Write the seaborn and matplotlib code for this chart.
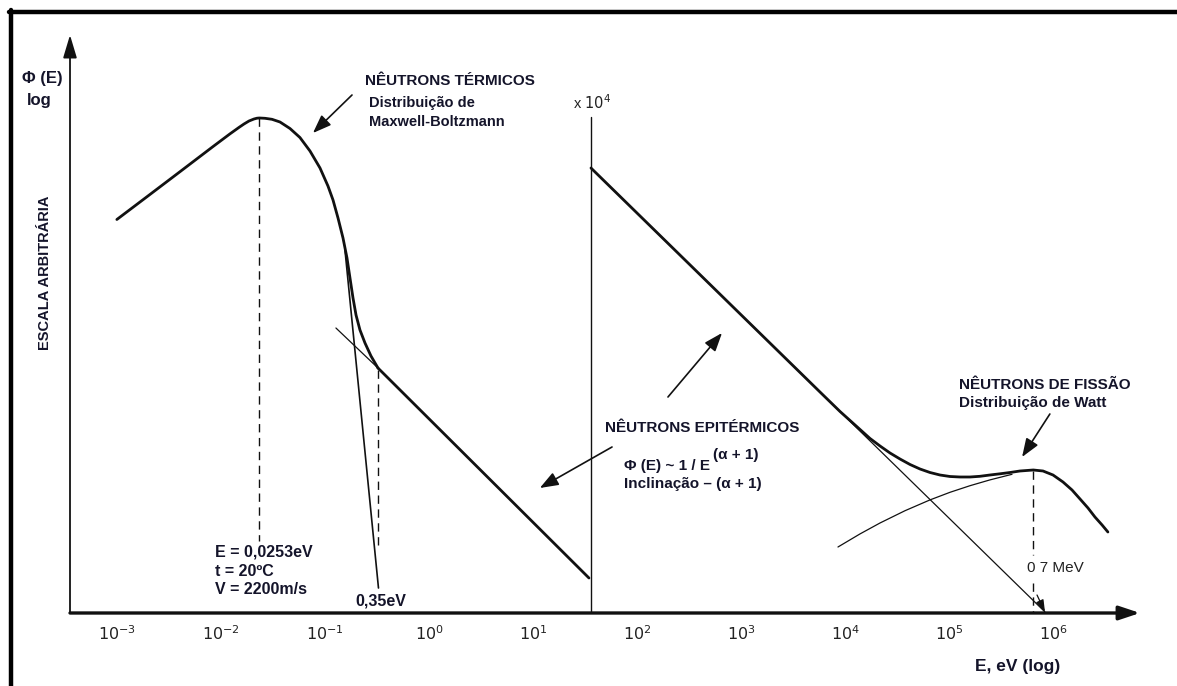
import matplotlib
matplotlib.use("Agg")
import matplotlib.pyplot as plt
from matplotlib.lines import Line2D
from matplotlib.transforms import ScaledTranslation
import seaborn as sns

# ---- spectrum data (energy in eV, flux on an arbitrary log scale) ----
# thermal peak (Maxwell-Boltzmann)
thermal_E = [1.08e-3, 2.10e-3, 4.37e-3, 9.07e-3, 0.0132, 0.01614, 0.01803, 0.02014,
             0.02249, 0.02404, 0.0253, 0.02871, 0.0335, 0.0400, 0.0499, 0.0622,
             0.0777, 0.0970, 0.1157, 0.1294, 0.1445, 0.1614, 0.1763, 0.1884,
             0.2014, 0.2153, 0.2350, 0.2626, 0.2999, 0.35]
thermal_phi = [3.935, 4.162, 4.413, 4.664, 4.791, 4.856, 4.89, 4.92,
               4.94, 4.948, 4.95, 4.947, 4.937, 4.91, 4.845, 4.755,
               4.62, 4.45, 4.27, 4.13, 3.95, 3.75, 3.55, 3.35,
               3.15, 2.98, 2.83, 2.70, 2.57, 2.45]

# 1/E slowing-down region, low-energy part
epi_low_E = [0.35, 37.4]
epi_low_phi = [2.45, 0.35]
epi_ext_E = [0.138, 0.35]
epi_ext_phi = [2.85, 2.45]
cut_line_E = [0.1686, 0.354]
cut_line_phi = [3.63, 0.25]

# 1/E region continued (x 10^4) and fission spectrum
epi_high_E = [39.1, 9.07e5]
epi_high_phi = [4.45, 0.01]
fast_E = [39.1, 6223, 9700, 1.211e4, 1.511e4, 1.885e4, 2.352e4, 2.934e4, 3.66e4,
          4.57e4, 5.70e4, 7.11e4, 8.87e4, 1.107e5, 1.381e5, 1.724e5, 2.15e5,
          2.68e5, 3.35e5, 4.18e5, 5.21e5, 7.0e5, 8.68e5, 1.083e6, 1.351e6,
          1.65e6, 1.97e6, 2.35e6, 2.74e6, 3.21e6, 3.65e6]
fast_phi = [4.45, 2.21, 2.015, 1.925, 1.835, 1.745, 1.67, 1.60, 1.54,
            1.485, 1.44, 1.405, 1.38, 1.365, 1.36, 1.36, 1.367,
            1.38, 1.392, 1.405, 1.42, 1.43, 1.42, 1.38, 1.31,
            1.23, 1.14, 1.05, 0.96, 0.88, 0.81]
watt_E = [9268, 1.511e4, 2.35e4, 4.09e4, 7.11e4, 1.107e5, 1.724e5, 2.68e5, 4.37e5]
watt_phi = [0.66, 0.791, 0.90, 1.023, 1.131, 1.207, 1.273, 1.331, 1.387]

E_thermal = 0.0253
E_cut = 0.35
E_watt = 7.0e5
E_split = 39.1

tick_E = [1e-3, 1e-2, 1e-1, 1e0, 1e1, 1e2, 1e3, 1e4, 1e5, 1e6]
tick_labels = [r"$10^{-3}$", r"$10^{-2}$", r"$10^{-1}$", r"$10^{0}$", r"$10^{1}$",
               r"$10^{2}$", r"$10^{3}$", r"$10^{4}$", r"$10^{5}$", r"$10^{6}$"]

sns.set_style("white")
plt.rcParams["font.family"] = ["Liberation Sans", "DejaVu Sans"]
plt.rcParams["mathtext.fontset"] = "dejavusans"

W, H = 1177, 686
fig = plt.figure(figsize=(W / 100, H / 100), dpi=100)
ax = fig.add_axes([70 / W, (H - 613) / H, (1140 - 70) / W, (613 - 35) / H])
ax.set_xscale("log")
ax.set_xlim(10 ** -3.417, 10 ** 6.871)
ax.set_ylim(0, 5.78)
for s in ax.spines.values():
    s.set_visible(False)
ax.set_facecolor("white")

INK = "#111111"
TXT = "#14142a"

# axes drawn as arrows
ax.annotate("", xy=(1, 0), xytext=(0, 0), xycoords="axes fraction",
            arrowprops=dict(arrowstyle="-|>,head_length=0.9,head_width=0.3",
                            lw=2.4, color=INK, shrinkA=0, shrinkB=0, mutation_scale=14))
ax.annotate("", xy=(0, 1), xytext=(0, 0), xycoords="axes fraction",
            arrowprops=dict(arrowstyle="-|>,head_length=1.0,head_width=0.3",
                            lw=1.3, color=INK, shrinkA=0, shrinkB=0, mutation_scale=14))

ax.set_xticks(tick_E)
ax.set_xticklabels(tick_labels)
ax.minorticks_off()
ax.set_yticks([])
ax.tick_params(axis="x", direction="in", length=8, width=1.1, color=INK,
               pad=8, labelsize=11.5, labelcolor="#222222")
shift = ScaledTranslation(4 / 100, 0, fig.dpi_scale_trans)
for lab in ax.get_xticklabels():
    lab.set_transform(lab.get_transform() + shift)

thick = dict(color=INK, lw=2.0, sort=False, estimator=None, ax=ax)
thin = dict(color=INK, lw=0.9, sort=False, estimator=None, ax=ax)

sns.lineplot(x=thermal_E, y=thermal_phi, **thick)
sns.lineplot(x=epi_low_E, y=epi_low_phi, **thick)
sns.lineplot(x=epi_ext_E, y=epi_ext_phi, **thin)
sns.lineplot(x=cut_line_E, y=cut_line_phi, color=INK, lw=1.2, sort=False, estimator=None, ax=ax)
sns.lineplot(x=epi_high_E, y=epi_high_phi, **thin)
sns.lineplot(x=watt_E, y=watt_phi, **thin)
sns.lineplot(x=fast_E, y=fast_phi, **thick)
for ln in ax.get_lines():
    ln.set_solid_joinstyle("round")
    ln.set_solid_capstyle("round")

# small arrow head where the 1/E extension meets the energy axis
ax.annotate("", xy=(epi_high_E[1], epi_high_phi[1]),
            xytext=(7.6e5, 0.18),
            arrowprops=dict(arrowstyle="-|>,head_length=0.6,head_width=0.2",
                            lw=0.9, color=INK, shrinkA=0, shrinkB=0, mutation_scale=12))

# split line for the x 10^4 part
ax.plot([E_split, E_split], [0, 4.96], color=INK, lw=1.0)

# dashed reference energies
dash = dict(color=INK, lw=1.0, ls=(0, (6, 4)))
ax.plot([E_thermal, E_thermal], [4.95, 0.72], **dash)
ax.plot([E_cut, E_cut], [2.43, 0.65], **dash)
ax.plot([E_watt, E_watt], [1.42, 0.58], **dash)
ax.plot([E_watt, E_watt], [0.30, 0.0], **dash)

# pointer arrows
arrow_kw = dict(arrowstyle="-|>,head_length=0.8,head_width=0.3", lw=1.2,
                color=INK, shrinkA=0, shrinkB=0, mutation_scale=14)
ax.annotate("", xy=(0.083, 4.80), xytext=(0.197, 5.18), arrowprops=arrow_kw)
ax.annotate("", xy=(711, 2.80), xytext=(215, 2.16), arrowprops=arrow_kw)
ax.annotate("", xy=(12.6, 1.25), xytext=(62.3, 1.66), arrowprops=arrow_kw)
ax.annotate("", xy=(5.46e5, 1.56), xytext=(1.01e6, 1.99), arrowprops=arrow_kw)


def fx(x):
    return x / W


def fy(y):
    return 1 - y / H


bold = dict(color=TXT, fontweight="bold", va="center", ha="left")

fig.text(fx(22), fy(78), "Φ (E)", fontsize=12, **bold)
fig.text(fx(27), fy(101), "log", fontsize=12, **bold)
fig.text(fx(45), fy(273), "ESCALA ARBITRÁRIA", fontsize=10.5, rotation=90,
         color=TXT, fontweight="bold", ha="center", va="center")

fig.text(fx(365), fy(81), "NÊUTRONS TÉRMICOS", fontsize=11, **bold)
fig.text(fx(369), fy(103), "Distribuição de", fontsize=10.5, **bold)
fig.text(fx(369), fy(122), "Maxwell-Boltzmann", fontsize=10.5, **bold)

fig.text(fx(605), fy(428), "NÊUTRONS EPITÉRMICOS", fontsize=11, **bold)
fig.text(fx(624), fy(466), "Φ (E) ~ 1 / E", fontsize=11, **bold)
fig.text(fx(713), fy(455), "(α + 1)", fontsize=11, **bold)
fig.text(fx(624), fy(484), "Inclinação – (α + 1)", fontsize=11, **bold)

fig.text(fx(959), fy(385), "NÊUTRONS DE FISSÃO", fontsize=11, **bold)
fig.text(fx(959), fy(403), "Distribuição de Watt", fontsize=11, **bold)

fig.text(fx(215), fy(552), "E = 0,0253eV", fontsize=11.5, **bold)
fig.text(fx(215), fy(571), "t = 20ºC", fontsize=11.5, **bold)
fig.text(fx(215), fy(590), "V = 2200m/s", fontsize=11.5, **bold)
fig.text(fx(355), fy(601), "0,35eV", fontsize=11.5, **bold)

fig.text(fx(1027), fy(568), "0 7 MeV", fontsize=11, color="#222222",
         va="center", ha="left")
fig.text(fx(573), fy(103), r"x $10^4$", fontsize=10.5, color="#222222",
         va="center", ha="left")
fig.text(fx(975), fy(667), "E, eV (log)", fontsize=12.5, **bold)

# page frame
fig.add_artist(Line2D([fx(9), 1.0], [fy(12), fy(12)], color="black", lw=3.2,
                      transform=fig.transFigure))
fig.add_artist(Line2D([fx(11), fx(11)], [fy(10), 0.0], color="black", lw=3.2,
                      transform=fig.transFigure))

fig.savefig("out.png", dpi=100, facecolor="white")
